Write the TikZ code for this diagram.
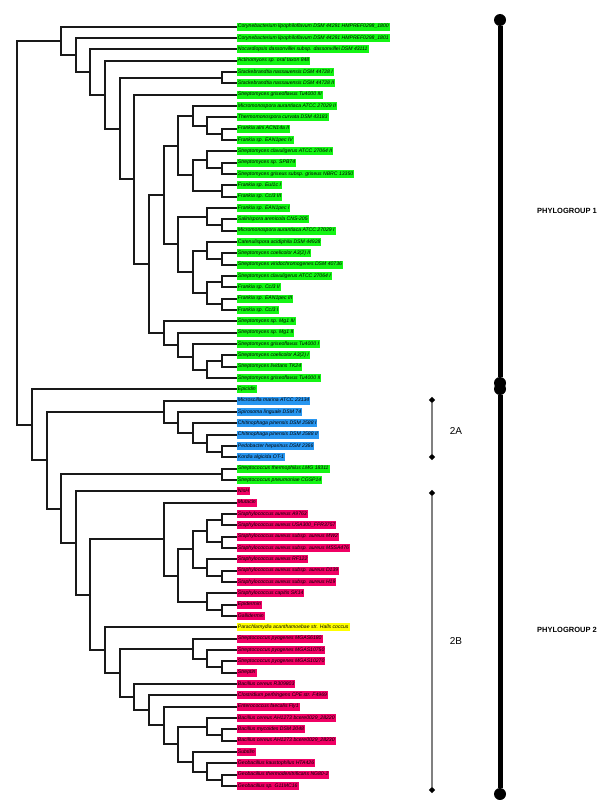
\documentclass[tikz,border=0pt]{standalone}
\usepackage{fontspec}
\setmainfont{Liberation Sans}
\usetikzlibrary{calc,shapes.geometric}
\definecolor{grn}{RGB}{20,245,20}
\definecolor{blu}{RGB}{40,150,240}
\definecolor{pnk}{RGB}{240,0,100}
\definecolor{yel}{RGB}{255,255,0}
\definecolor{sbarc}{RGB}{128,128,128}
\newcommand\leafnode[3]{\node[leafbox,fill=#2] (t#1) at (236.75,{26.7+(#1-1)*11.333}) {#3};}
\newcommand\inode[4]{%
  \path let \p1=($(#3)!0.5!(#4)$) in ({17.3pt+14.63pt*#2},\y1) coordinate (#1);
  \draw[branch] (#1) |- (#3);
  \draw[branch] (#1) |- (#4);}
\tikzset{
  leafbox/.style={anchor=west,inner xsep=1pt,inner ysep=1.7pt,text height=3.7pt,text depth=1.1pt,
    font=\fontsize{5.1}{6}\selectfont\itshape},
  branch/.style={draw=black!90,line width=2pt},
  bigdot/.style={circle,fill=black,minimum size=12pt,inner sep=0pt},
  pbar/.style={draw=black,line width=5pt},
  dia/.style={diamond,fill=black,minimum size=6.5pt,inner sep=0pt},
  sbar/.style={draw=sbarc,line width=1.3pt},
  plabel/.style={font=\fontsize{7.5}{9}\selectfont\bfseries},
  slabel/.style={font=\fontsize{10}{12}\selectfont}
}
\begin{document}
\begin{tikzpicture}[x=1pt,y=-1pt]
\useasboundingbox (0,0) rectangle (600,800);
\leafnode{1}{grn}{Corynebacterium lipophiloflavum DSM 44291 HMPREF0298\_1800}
\leafnode{2}{grn}{Corynebacterium lipophiloflavum DSM 44291 HMPREF0298\_1801}
\leafnode{3}{grn}{Nocardiopsis dassonvillei subsp. dassonvillei DSM 43111}
\leafnode{4}{grn}{Actinomyces sp. oral taxon 848}
\leafnode{5}{grn}{Stackebrandtia nassauensis DSM 44728 I}
\leafnode{6}{grn}{Stackebrandtia nassauensis DSM 44728 II}
\leafnode{7}{grn}{Streptomyces griseoflavus Tu4000 III}
\leafnode{8}{grn}{Micromonospora aurantiaca ATCC 27029 II}
\leafnode{9}{grn}{Thermomonospora curvata DSM 43183}
\leafnode{10}{grn}{Frankia alni ACN14a II}
\leafnode{11}{grn}{Frankia sp. EAN1pec IV}
\leafnode{12}{grn}{Streptomyces clavuligerus ATCC 27064 II}
\leafnode{13}{grn}{Streptomyces sp. SPB74}
\leafnode{14}{grn}{Streptomyces griseus subsp. griseus NBRC 13350}
\leafnode{15}{grn}{Frankia sp. EuI1c I}
\leafnode{16}{grn}{Frankia sp. CcI3 III}
\leafnode{17}{grn}{Frankia sp. EAN1pec I}
\leafnode{18}{grn}{Salinispora arenicola CNS-205}
\leafnode{19}{grn}{Micromonospora aurantiaca ATCC 27029 I}
\leafnode{20}{grn}{Catenulispora acidiphila DSM 44928}
\leafnode{21}{grn}{Streptomyces coelicolor A3(2) II}
\leafnode{22}{grn}{Streptomyces viridochromogenes DSM 40736}
\leafnode{23}{grn}{Streptomyces clavuligerus ATCC 27064 I}
\leafnode{24}{grn}{Frankia sp. CcI3 II}
\leafnode{25}{grn}{Frankia sp. EAN1pec III}
\leafnode{26}{grn}{Frankia sp. CcI3 I}
\leafnode{27}{grn}{Streptomyces sp. Mg1 III}
\leafnode{28}{grn}{Streptomyces sp. Mg1 II}
\leafnode{29}{grn}{Streptomyces griseoflavus Tu4000 I}
\leafnode{30}{grn}{Streptomyces coelicolor A3(2) I}
\leafnode{31}{grn}{Streptomyces lividans TK24}
\leafnode{32}{grn}{Streptomyces griseoflavus Tu4000 II}
\leafnode{33}{grn}{Epicidin}
\leafnode{34}{blu}{Microscilla marina ATCC 23134}
\leafnode{35}{blu}{Spirosoma linguale DSM 74}
\leafnode{36}{blu}{Chitinophaga pinensis DSM 2588 I}
\leafnode{37}{blu}{Chitinophaga pinensis DSM 2588 II}
\leafnode{38}{blu}{Pedobacter heparinus DSM 2366}
\leafnode{39}{blu}{Kordia algicida OT-1}
\leafnode{40}{grn}{Streptococcus thermophilus LMG 18311}
\leafnode{41}{grn}{Streptococcus pneumoniae CGSP14}
\leafnode{42}{pnk}{NisH}
\leafnode{43}{pnk}{Mutacin}
\leafnode{44}{pnk}{Staphylococcus aureus A9763}
\leafnode{45}{pnk}{Staphylococcus aureus USA300\_FPR3757}
\leafnode{46}{pnk}{Staphylococcus aureus subsp. aureus MW2}
\leafnode{47}{pnk}{Staphylococcus aureus subsp. aureus MSSA476}
\leafnode{48}{pnk}{Staphylococcus aureus RF122}
\leafnode{49}{pnk}{Staphylococcus aureus subsp. aureus D139}
\leafnode{50}{pnk}{Staphylococcus aureus subsp. aureus H19}
\leafnode{51}{pnk}{Staphylococcus capitis SK14}
\leafnode{52}{pnk}{Epidermin}
\leafnode{53}{pnk}{Gallidermin}
\leafnode{54}{yel}{Parachlamydia acanthamoebae str. Halls coccus}
\leafnode{55}{pnk}{Streptococcus pyogenes MGAS6180}
\leafnode{56}{pnk}{Streptococcus pyogenes MGAS10750}
\leafnode{57}{pnk}{Streptococcus pyogenes MGAS10270}
\leafnode{58}{pnk}{Streptin}
\leafnode{59}{pnk}{Bacillus cereus R309803}
\leafnode{60}{pnk}{Clostridium perfringens CPE str. F4969}
\leafnode{61}{pnk}{Enterococcus faecalis Fly1}
\leafnode{62}{pnk}{Bacillus cereus AH1273 bcere0029\_28220}
\leafnode{63}{pnk}{Bacillus mycoides DSM 2048}
\leafnode{64}{pnk}{Bacillus cereus AH1273 bcere0029\_28230}
\leafnode{65}{pnk}{Subtilin}
\leafnode{66}{pnk}{Geobacillus kaustophilus HTA426}
\leafnode{67}{pnk}{Geobacillus thermodenitrificans NG80-2}
\leafnode{68}{pnk}{Geobacillus sp. G11MC16}
% phylogroup 1
\inode{F}{14}{t5.west}{t6.west}
\inode{P}{14}{t10.west}{t11.west}
\inode{O}{13}{t9.west}{P}
\inode{M}{12}{t8.west}{O}
\inode{S}{14}{t13.west}{t14.west}
\inode{Q}{13}{t12.west}{S}
\inode{R}{14}{t15.west}{t16.west}
\inode{N}{12}{Q}{R}
\inode{K}{11}{M}{N}
\inode{Tb}{14}{t18.west}{t19.west}
\inode{T}{13}{t17.west}{Tb}
\inode{Vb}{14}{t21.west}{t22.west}
\inode{V}{13}{t20.west}{Vb}
\inode{Wa}{14}{t23.west}{t24.west}
\inode{Wb}{14}{t25.west}{t26.west}
\inode{W}{13}{Wa}{Wb}
\inode{U}{12}{V}{W}
\inode{L}{11}{T}{U}
\inode{I}{10}{K}{L}
\inode{Za}{14}{t30.west}{t31.west}
\inode{Z}{13}{Za}{t32.west}
\inode{Y}{12}{t29.west}{Z}
\inode{X}{11}{t28.west}{Y}
\inode{J}{10}{t27.west}{X}
\inode{H}{9}{I}{J}
\inode{G}{8}{t7.west}{H}
\inode{E}{7}{F}{G}
\inode{D}{6}{t4.west}{E}
\inode{C}{5}{t3.west}{D}
\inode{B}{4}{t2.west}{C}
\inode{A}{3}{t1.west}{B}
% phylogroup 2
\inode{AFb}{14}{t38.west}{t39.west}
\inode{AF}{13}{t37.west}{AFb}
\inode{AE}{12}{t36.west}{AF}
\inode{AD}{11}{t35.west}{AE}
\inode{AB}{10}{t34.west}{AD}
\inode{AG}{14}{t40.west}{t41.west}
\inode{AOa}{14}{t44.west}{t45.west}
\inode{AOb}{14}{t46.west}{t47.west}
\inode{AO}{13}{AOa}{AOb}
\inode{APa}{14}{t49.west}{t50.west}
\inode{AP}{13}{t48.west}{APa}
\inode{AM}{12}{AO}{AP}
\inode{ANa}{14}{t52.west}{t53.west}
\inode{AN}{13}{t51.west}{ANa}
\inode{AL}{11}{AM}{AN}
\inode{AJ}{10}{t43.west}{AL}
\inode{ARb}{14}{t57.west}{t58.west}
\inode{ARa}{13}{t56.west}{ARb}
\inode{AR}{12}{t55.west}{ARa}
\inode{AWa}{14}{t63.west}{t64.west}
\inode{AW}{13}{t62.west}{AWa}
\inode{AYa}{14}{t67.west}{t68.west}
\inode{AY}{13}{t66.west}{AYa}
\inode{AX}{12}{t65.west}{AY}
\inode{AV}{11}{AW}{AX}
\inode{AU}{10}{t61.west}{AV}
\inode{AT}{9}{t60.west}{AU}
\inode{AS}{8}{t59.west}{AT}
\inode{AQ}{7}{AR}{AS}
\inode{AK}{6}{t54.west}{AQ}
\inode{AI}{5}{AJ}{AK}
\inode{AH}{4}{t42.west}{AI}
\inode{AC}{3}{AG}{AH}
\inode{AA}{2}{AB}{AC}
\inode{BB}{1}{t33.west}{AA}
\inode{root}{0}{A}{BB}
% sub-group bars
\node[dia] (a1) at (432,400) {};
\node[dia] (a2) at (432,457) {};
\draw[sbar] (a1) -- (a2);
\node[slabel] (la) at (456,431) {2A};
\node[dia] (b1) at (432,493) {};
\node[dia] (b2) at (432,790) {};
\draw[sbar] (b1) -- (b2);
\node[slabel] (lb) at (456,641) {2B};
% phylogroup bars
\node[bigdot] (p1a) at (500,20) {};
\node[bigdot] (p1b) at (500,383) {};
\draw[pbar] (p1a) -- (p1b);
\node[plabel] (l1) at (567,211) {PHYLOGROUP 1};
\node[bigdot] (p2a) at (500,389) {};
\node[bigdot] (p2b) at (500,794) {};
\draw[pbar] (p2a) -- (p2b);
\node[plabel] (l2) at (567,630) {PHYLOGROUP 2};
\end{tikzpicture}
\end{document}
